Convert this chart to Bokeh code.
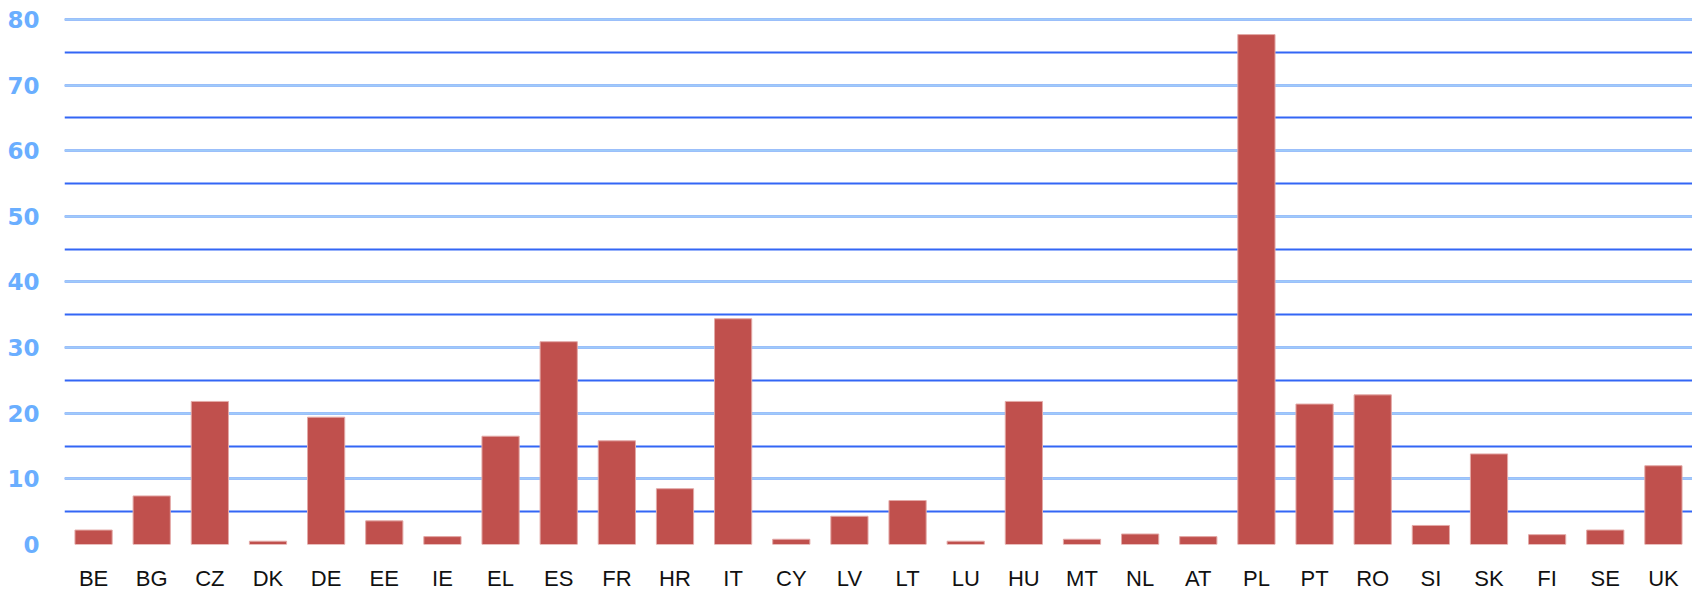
from bokeh.plotting import figure
from bokeh.models import Range1d, SingleIntervalTicker, ColumnDataSource
from bokeh.embed import file_html
from bokeh.resources import INLINE

countries = ["BE", "BG", "CZ", "DK", "DE", "EE", "IE", "EL", "ES", "FR", "HR", "IT", "CY", "LV",
             "LT", "LU", "HU", "MT", "NL", "AT", "PL", "PT", "RO", "SI", "SK", "FI", "SE", "UK"]
values = [2.2, 7.4, 21.8, 0.5, 19.4, 3.6, 1.2, 16.5, 30.9, 15.8, 8.5, 34.4, 0.8, 4.3,
          6.7, 0.5, 21.8, 0.8, 1.6, 1.2, 77.7, 21.4, 22.8, 2.9, 13.8, 1.5, 2.2, 12.0]

src = ColumnDataSource(data=dict(x=countries, top=values))

p = figure(x_range=countries, y_range=Range1d(0, 80.3), width=1692, height=593,
           output_backend="svg", toolbar_location=None,
           min_border_left=64, min_border_right=0, min_border_top=17, min_border_bottom=0)
p.outline_line_color = None
p.background_fill_color = "white"
p.border_fill_color = "white"

p.vbar(x="x", top="top", width=0.64, source=src, fill_color="#C0504D",
       line_color="#E3A9A7", line_width=1)

p.yaxis.ticker = SingleIntervalTicker(interval=10, num_minor_ticks=2)
p.yaxis.axis_line_color = None
p.yaxis.major_tick_line_color = None
p.yaxis.minor_tick_line_color = None
p.yaxis.major_label_text_font = "DejaVu Sans"
p.yaxis.major_label_text_font_style = "bold"
p.yaxis.major_label_text_font_size = "23px"
p.yaxis.major_label_text_color = "#6AAEFF"
p.yaxis.major_label_standoff = 19

p.xaxis.axis_line_color = None
p.xaxis.major_tick_line_color = None
p.xaxis.major_label_text_font = "Liberation Sans"
p.xaxis.major_label_text_font_size = "22px"
p.xaxis.major_label_text_color = "#111111"
p.xaxis.major_label_standoff = 15

p.xgrid.grid_line_color = None
p.ygrid.grid_line_color = "#9ECBFA"
p.ygrid.grid_line_width = 2
p.ygrid.minor_grid_line_color = "#3366F5"
p.ygrid.minor_grid_line_width = 2
p.ygrid.level = "underlay"

open("out.html", "w").write(file_html(p, INLINE))
